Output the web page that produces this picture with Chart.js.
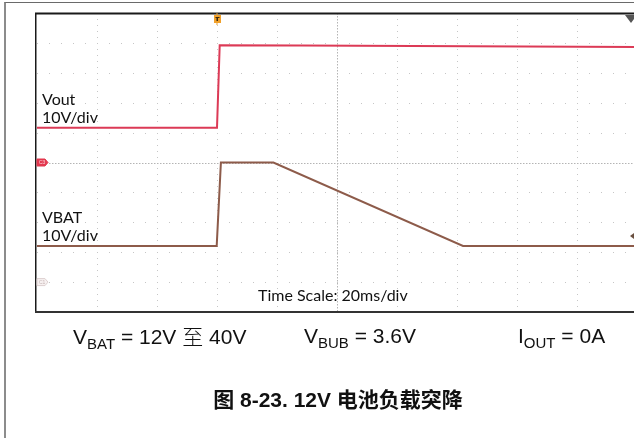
<!DOCTYPE html>
<html>
<head>
<meta charset="utf-8">
<script src="https://cdn.jsdelivr.net/npm/chart.js@4"></script>
<style>
  body { margin: 0; background: #fff; overflow: hidden; width: 634px; height: 438px; position: relative; }
  #frame { position: absolute; left: 4px; top: 2px; width: 640px; height: 440px; border-left: 2px solid #8c8c8c; border-top: 1px solid #6a6a6a; }
  canvas { position: absolute; left: 0; top: 0; }
  .lbl { position: absolute; font-family: Lato, "Open Sans", sans-serif; font-size: 16px; line-height: 18px; color: #111; white-space: nowrap; }
  .cond { position: absolute; font-family: "Liberation Sans", Arial, "Noto Sans CJK SC", sans-serif; font-size: 21px; line-height: 21px; color: #111; white-space: nowrap; }
  .cond sub { font-size: 15px; vertical-align: -5px; line-height: 0; }
  .cjk { font-family: "Noto Sans CJK SC", sans-serif; font-weight: 300; }
  #caption { position: absolute; left: 0; width: 676px; top: 389px; text-align: center; font-family: "Liberation Sans", Arial, "Noto Sans CJK SC", sans-serif; font-weight: bold; font-size: 21px; line-height: 21px; color: #111; white-space: nowrap; }
</style>
</head>
<body>
<div id="frame"></div>
<canvas id="scope" width="637" height="438"></canvas>
<div class="lbl" style="left:42px; top:90px;">Vout<br>10V/div</div>
<div class="lbl" style="left:42px; top:208px;">VBAT<br>10V/div</div>
<div class="lbl" style="left:258px; top:286px;">Time Scale: 20ms/div</div>
<div class="cond" style="left:73px; top:325px;">V<sub>BAT</sub> = 12V <span class="cjk">至</span> 40V</div>
<div class="cond" style="left:304px; top:325px;">V<sub>BUB</sub> = 3.6V</div>
<div class="cond" style="left:518px; top:325px;">I<sub>OUT</sub> = 0A</div>
<div id="caption">图 8-23. 12V 电池负载突降</div>
<script>
// time base: 20ms/div, 10 divisions
const timeMin = 0;
const timeMax = 200;
const timeDiv = 20;
// vertical: 10V/div, 10 divisions
const voltMin = 0;
const voltMax = 100;
const voltDiv = 10;

// channel ground offsets on screen (volts of screen scale)
const voutGround = 50;
const vbatGround = 10;

// Vout (red)
const voutTime = [0, 60.0, 60.9, 88, 200];
const voutVolts = [11.6, 11.6, 39.2, 39.1, 38.6];

// VBAT (brown)
const vbatTime = [0, 59.9, 61.3, 78.8, 142.0, 200];
const vbatVolts = [12.1, 12.1, 40.0, 40.0, 12.1, 12.1];

// trigger position
const triggerTime = 60;

function toPoints(times, volts, offset) {
  return times.map((t, i) => ({ x: t, y: volts[i] + offset }));
}

// scope graticule, frame and channel markers
const scopePlugin = {
  id: 'scopeGrid',
  beforeDatasetsDraw(chart) {
    const { ctx, chartArea: a, scales: { x, y } } = chart;
    ctx.save();
    ctx.fillStyle = '#c6c6c6';
    // vertical division lines, dots every 1/5 div
    for (let t = timeMin + timeDiv; t < timeMax; t += timeDiv) {
      if (t === (timeMin + timeMax) / 2) continue;
      const px = Math.round(x.getPixelForValue(t));
      for (let v = voltMin; v <= voltMax; v += voltDiv / 5) {
        ctx.fillRect(px, Math.round(y.getPixelForValue(v)), 1, 1);
      }
    }
    // horizontal division lines
    for (let v = voltMin + voltDiv; v < voltMax; v += voltDiv) {
      if (v === (voltMin + voltMax) / 2) continue;
      const py = Math.round(y.getPixelForValue(v));
      for (let t = timeMin; t <= timeMax; t += timeDiv / 5) {
        ctx.fillRect(Math.round(x.getPixelForValue(t)), py, 1, 1);
      }
    }
    // centre lines, fine dotted
    ctx.fillStyle = '#b4b4b4';
    const cx = Math.round(x.getPixelForValue((timeMin + timeMax) / 2));
    const cy = Math.round(y.getPixelForValue((voltMin + voltMax) / 2));
    for (let py = a.top; py < a.bottom; py += 3) ctx.fillRect(cx, py, 1, 1.5);
    for (let px = a.left + 12; px < a.right; px += 3) ctx.fillRect(px, cy, 1.5, 1);

    // screen border: left, top, bottom
    ctx.fillStyle = '#1a1a1a';
    ctx.fillRect(a.left - 2, a.top, 1.5, a.bottom - a.top);
    ctx.fillRect(a.left - 2, a.top - 0.5, a.right, 2);
    ctx.fillStyle = '#333';
    ctx.fillRect(a.left - 2, a.bottom - 1, a.right, 2);
    ctx.restore();
  },
  afterDatasetsDraw(chart) {
    const { ctx, chartArea: a, scales: { x, y } } = chart;
    ctx.save();
    // trigger marker
    const tx = Math.round(x.getPixelForValue(triggerTime));
    ctx.fillStyle = '#f0a02a';
    ctx.fillRect(tx - 0.5, a.top, 1, 3);
    ctx.fillRect(tx - 3, a.top + 2, 7, 8);
    ctx.fillRect(tx - 0.5, a.top + 10, 1, 2);
    ctx.fillStyle = '#3a2a10';
    ctx.fillRect(tx - 1.5, a.top + 4, 4, 1);
    ctx.fillRect(tx - 0.5, a.top + 4, 1.5, 4);

    // trigger level marker, top right
    ctx.fillStyle = '#555';
    ctx.beginPath();
    ctx.moveTo(625, a.top + 2);
    ctx.lineTo(637, a.top + 2);
    ctx.lineTo(631, a.top + 10);
    ctx.closePath();
    ctx.fill();

    // channel ground markers
    function flag(py, fill, stroke, textColor, label) {
      ctx.beginPath();
      ctx.moveTo(a.left, py - 3.5);
      ctx.lineTo(a.left + 8, py - 3.5);
      ctx.lineTo(a.left + 11, py);
      ctx.lineTo(a.left + 8, py + 3.5);
      ctx.lineTo(a.left, py + 3.5);
      ctx.closePath();
      ctx.fillStyle = fill;
      ctx.fill();
      ctx.strokeStyle = stroke;
      ctx.lineWidth = 1;
      ctx.stroke();
      ctx.fillStyle = textColor;
      ctx.font = '5px sans-serif';
      ctx.textBaseline = 'middle';
      ctx.fillText(label, a.left + 2, py + 0.5);
    }
    flag(y.getPixelForValue(voutGround), '#e2384f', '#e2384f', '#fbd0d6', 'C3');
    flag(y.getPixelForValue(vbatGround), '#f7f1f1', '#ddd0d0', '#c8b8b8', 'C1');

    // small edge marker, right side
    ctx.fillStyle = '#6a5040';
    ctx.beginPath();
    ctx.moveTo(634, 233);
    ctx.lineTo(634, 239);
    ctx.lineTo(630, 236);
    ctx.closePath();
    ctx.fill();
    ctx.restore();
  }
};

new Chart(document.getElementById('scope'), {
  type: 'line',
  data: {
    datasets: [{
      label: 'Vout',
      data: toPoints(voutTime, voutVolts, voutGround),
      borderColor: '#dc3a56',
      borderWidth: 2,
      pointRadius: 0,
      tension: 0
    }, {
      label: 'VBAT',
      data: toPoints(vbatTime, vbatVolts, vbatGround),
      borderColor: '#8d5b4a',
      borderWidth: 2,
      pointRadius: 0,
      tension: 0
    }]
  },
  options: {
    responsive: false,
    animation: false,
    layout: { padding: { left: 37, top: 13, right: 0, bottom: 126 } },
    plugins: { legend: { display: false }, tooltip: { enabled: false } },
    scales: {
      x: { type: 'linear', min: timeMin, max: timeMax, display: false },
      y: { type: 'linear', min: voltMin, max: voltMax, display: false }
    }
  },
  plugins: [scopePlugin]
});
</script>
</body>
</html>
